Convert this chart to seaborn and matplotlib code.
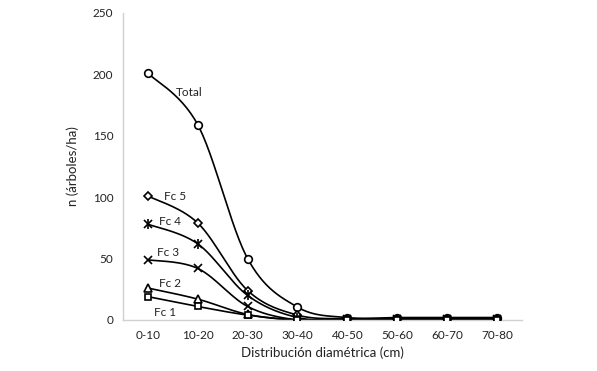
import numpy as np
import matplotlib
matplotlib.use("Agg")
import matplotlib.pyplot as plt
import seaborn as sns

# Datos
clases = ['0-10', '10-20', '20-30', '30-40', '40-50', '50-60', '60-70', '70-80']
total = [201, 159, 50, 10.5, 2, 2, 2, 2]
fc5 = [101, 79, 24, 4, 1, 1, 1, 1]
fc4 = [78, 62, 20, 2, 0.5, 0.5, 0.5, 0.5]
fc3 = [49, 42, 11, 0, 0, 0, 0, 0]
fc2 = [26, 17, 4.5, 0, 0, 0, 0, 0]
fc1 = [19, 11, 4, 0, 0, 0, 0, 0]

sns.set_style('white')
plt.rcParams['font.family'] = ['Lato', 'DejaVu Sans']


def suavizar(y, n=30):
    # curva tipo Catmull-Rom (como las líneas suavizadas de Excel)
    y = np.asarray(y, dtype=float)
    x = np.arange(len(y), dtype=float)
    p = np.column_stack([x, y])
    p = np.vstack([p[0], p, p[-1]])
    out = []
    t = np.linspace(0, 1, n)[:, None]
    for i in range(1, len(p) - 2):
        p0, p1, p2, p3 = p[i - 1], p[i], p[i + 1], p[i + 2]
        c1 = p1 + (p2 - p0) / 6
        c2 = p2 - (p3 - p1) / 6
        seg = ((1 - t) ** 3) * p1 + 3 * ((1 - t) ** 2) * t * c1 + 3 * (1 - t) * t ** 2 * c2 + t ** 3 * p2
        out.append(seg)
    s = np.vstack(out)
    return s[:, 0], s[:, 1]


fig = plt.figure(figsize=(5.97, 3.71), dpi=100)
ax = fig.add_axes([0.206, 0.1375, 0.668, 0.8275])

xs = np.arange(len(clases))
series = [
    (total, 'o', 'Total'),
    (fc5, 'D', 'Fc 5'),
    (fc4, 'star', 'Fc 4'),
    (fc3, 'x', 'Fc 3'),
    (fc2, '^', 'Fc 2'),
    (fc1, 's', 'Fc 1'),
]

for vals, mk, nombre in series:
    sx, sy = suavizar(vals)
    sns.lineplot(x=sx, y=sy, ax=ax, color='black', linewidth=1.2, sort=False)
    if mk == 'star':
        ax.plot(xs, vals, 'x', color='black', markersize=6, markeredgewidth=1.2, zorder=3)
        ax.plot(xs, vals, '|', color='black', markersize=7, markeredgewidth=1.2, zorder=3)
    elif mk == 'x':
        ax.plot(xs, vals, 'x', color='black', markersize=6, markeredgewidth=1.2, zorder=3)
    else:
        ms = {'o': 5.5, 'D': 4.5, '^': 5.5, 's': 5.0}[mk]
        ax.plot(xs, vals, mk, color='black', markerfacecolor='white', markersize=ms,
                markeredgewidth=1.2, zorder=3)

# Etiquetas de series
etiquetas = [('Total', 0.82, 185), ('Fc 5', 0.55, 100.5), ('Fc 4', 0.44, 80),
             ('Fc 3', 0.40, 55), ('Fc 2', 0.44, 29.5), ('Fc 1', 0.34, 6.5)]
for txt, x, y in etiquetas:
    ax.text(x, y, txt, fontsize=8.5, ha='center', va='center', color='#222222')

ax.set_xlim(-0.5, len(clases) - 0.5)
ax.set_ylim(0, 250)
ax.set_yticks([0, 50, 100, 150, 200, 250])
ax.set_xticks(xs)
ax.set_xticklabels(clases)
ax.tick_params(axis='both', length=0, labelsize=8.5, colors='#222222', pad=7)
ax.set_xlabel('Distribución diamétrica (cm)', fontsize=9.5, color='#222222', labelpad=4)
ax.set_ylabel('n (árboles/ha)', fontsize=9.5, color='#222222', labelpad=10)

sns.despine(ax=ax)
for s in ['left', 'bottom']:
    ax.spines[s].set_color('#d0d0d0')
    ax.spines[s].set_linewidth(1.0)

fig.savefig('out.png', dpi=100)
